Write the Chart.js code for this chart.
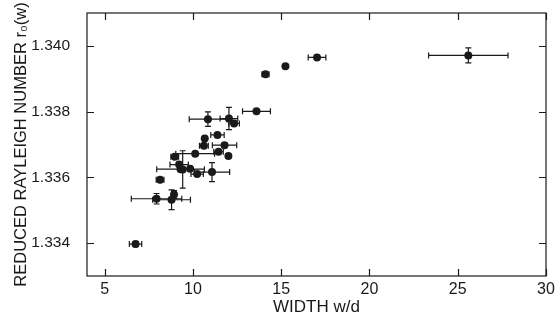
<!DOCTYPE html>
<html>
<head>
<meta charset="utf-8">
<script src="https://cdn.jsdelivr.net/npm/chart.js@4/dist/chart.umd.min.js"></script>
<style>
html,body{margin:0;padding:0;background:#fff;}
#wrap{width:560px;height:324px;position:relative;}
</style>
</head>
<body>
<div id="wrap"><canvas id="c" width="560" height="324"></canvas></div>
<script>
// ---- data ----
const widthVals    = [6.75, 7.94, 8.79, 8.93, 8.14, 8.97, 9.22, 9.30, 9.42, 9.84, 10.24, 10.13, 10.62, 10.67, 10.85, 11.08, 11.39, 11.45, 11.79, 12.01, 12.04, 12.33, 13.60, 14.11, 15.24, 17.03, 25.60];
const rayleighVals = [1.33397, 1.33535, 1.33532, 1.33548, 1.33593, 1.33663, 1.33639, 1.33625, 1.33624, 1.33626, 1.33610, 1.33672, 1.33696, 1.33718, 1.33777, 1.33616, 1.33729, 1.33678, 1.33698, 1.33665, 1.33779, 1.33764, 1.33801, 1.33914, 1.33938, 1.33965, 1.33971];
const widthErr     = [0.35, 1.43, 1.07, 0, 0.22, 0.22, 0.52, 1.35, 0, 0, 0.35, 1.10, 0.25, 0, 1.06, 1.00, 0.38, 0.27, 0.69, 0, 0.50, 0.30, 0.79, 0.20, 0, 0.50, 2.25];
const rayleighErr  = [0.00008, 0.00016, 0.00030, 0.00012, 0, 0, 0, 0, 0.00057, 0, 0, 0, 0, 0, 0.00022, 0.00029, 0, 0, 0, 0, 0.00034, 0, 0, 0, 0, 0, 0.00023];
const xTicks = [5, 10, 15, 20, 25, 30];
const yTicks = [1.334, 1.336, 1.338, 1.340];
const xTitle = 'WIDTH w/d';
const yTitle = 'REDUCED RAYLEIGH NUMBER r\u2080(w)';

const points = widthVals.map((w, i) => ({x: w, y: rayleighVals[i]}));

const INK = '#1a1a1a';
const FONT = "'Liberation Sans', Arial, Helvetica, sans-serif";

const errorBars = {
  id: 'errorBars',
  beforeDatasetsDraw(chart) {
    const {ctx, scales: {x, y}} = chart;
    ctx.save();
    ctx.strokeStyle = INK;
    ctx.lineWidth = 1.2;
    const cap = 3;
    widthVals.forEach((w, i) => {
      const py = y.getPixelForValue(rayleighVals[i]);
      const px = x.getPixelForValue(w);
      if (widthErr[i] > 0) {
        const x1 = x.getPixelForValue(w - widthErr[i]);
        const x2 = x.getPixelForValue(w + widthErr[i]);
        ctx.beginPath();
        ctx.moveTo(x1, py); ctx.lineTo(x2, py);
        ctx.moveTo(x1, py - cap); ctx.lineTo(x1, py + cap);
        ctx.moveTo(x2, py - cap); ctx.lineTo(x2, py + cap);
        ctx.stroke();
      }
      if (rayleighErr[i] > 0) {
        const y1 = y.getPixelForValue(rayleighVals[i] - rayleighErr[i]);
        const y2 = y.getPixelForValue(rayleighVals[i] + rayleighErr[i]);
        ctx.beginPath();
        ctx.moveTo(px, y1); ctx.lineTo(px, y2);
        ctx.moveTo(px - cap, y1); ctx.lineTo(px + cap, y1);
        ctx.moveTo(px - cap, y2); ctx.lineTo(px + cap, y2);
        ctx.stroke();
      }
    });
    ctx.restore();
  }
};

const frame = {
  id: 'frame',
  afterDraw(chart) {
    const {ctx, chartArea: a, scales: {x, y}} = chart;
    ctx.save();
    ctx.strokeStyle = INK;
    ctx.lineWidth = 1.2;
    ctx.strokeRect(a.left, a.top, a.right - a.left, a.bottom - a.top);
    const tl = 7;
    ctx.beginPath();
    xTicks.forEach(v => {
      const px = Math.round(x.getPixelForValue(v)) + 0.5;
      ctx.moveTo(px, a.bottom); ctx.lineTo(px, a.bottom - tl);
      ctx.moveTo(px, a.top); ctx.lineTo(px, a.top + tl);
    });
    yTicks.forEach(v => {
      const py = Math.round(y.getPixelForValue(v)) + 0.5;
      ctx.moveTo(a.left, py); ctx.lineTo(a.left + tl, py);
      ctx.moveTo(a.right, py); ctx.lineTo(a.right - tl, py);
    });
    ctx.stroke();
    ctx.restore();
  }
};

new Chart(document.getElementById('c'), {
  type: 'scatter',
  data: {
    datasets: [{
      data: points,
      backgroundColor: INK,
      borderColor: INK,
      pointRadius: 4,
      pointHoverRadius: 4,
      borderWidth: 0
    }]
  },
  options: {
    responsive: false,
    animation: false,
    events: [],
    layout: {padding: {top: 13, right: 14, left: 0, bottom: 0}},
    plugins: {legend: {display: false}, tooltip: {enabled: false}},
    scales: {
      x: {
        type: 'linear',
        min: 4,
        max: 30,
        afterBuildTicks(s) { s.ticks = xTicks.map(v => ({value: v})); },
        afterFit(s) { s.height = 48; },
        grid: {display: false, drawTicks: false},
        border: {display: false},
        ticks: {color: INK, font: {family: FONT, size: 16}, padding: 4, maxRotation: 0, autoSkip: false},
        title: {display: true, text: xTitle, color: INK, font: {family: FONT, size: 17}, padding: {top: 0, bottom: 6}}
      },
      y: {
        type: 'linear',
        min: 1.333,
        max: 1.341,
        afterBuildTicks(s) { s.ticks = yTicks.map(v => ({value: v})); },
        afterFit(s) { s.width = 87; },
        grid: {display: false, drawTicks: true, tickLength: 14},
        border: {display: false},
        ticks: {color: INK, font: {family: FONT, size: 15.5}, padding: 3, autoSkip: false,
                callback: v => v.toFixed(3)},
        title: {display: true, text: yTitle, color: INK, font: {family: FONT, size: 16.5}, padding: {top: 12, bottom: 0}}
      }
    }
  },
  plugins: [errorBars, frame]
});
</script>
</body>
</html>
